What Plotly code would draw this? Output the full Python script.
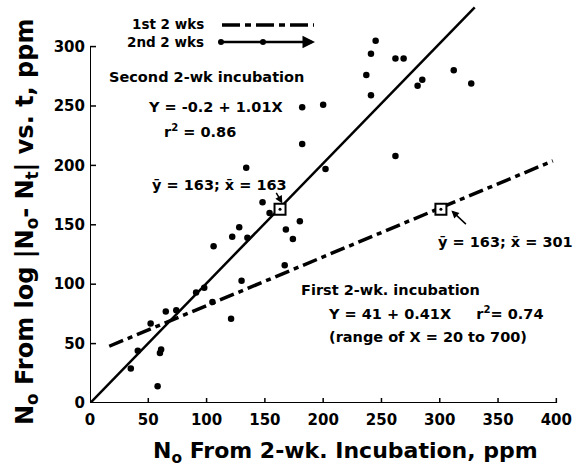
import plotly.graph_objects as go

# ---- data ----
x2 = [35, 41, 52, 58, 60, 61, 65, 74, 91, 98, 105, 106, 121, 122, 130, 128, 135, 134,
      148, 154, 167, 168, 174, 180, 182, 182, 200, 202, 237, 241, 245, 241, 262, 269,
      262, 281, 285, 312, 327]
y2 = [29, 44, 67, 14, 42, 45, 77, 78, 93, 97, 85, 132, 71, 140, 103, 148, 139, 198,
      169, 160, 116, 146, 138, 153, 249, 218, 251, 197, 276, 294, 305, 259, 290, 290,
      208, 267, 272, 280, 269]

# regression lines (from the equations printed on the chart)
b0_2, b1_2 = -0.2, 1.01
line2_x = [0, 330]
b0_1, b1_1 = 41, 0.41
line1_x = [16.5, 397]

means_x = [163, 301]
means_y = [163, 163]

xticks = [0, 50, 100, 150, 200, 250, 300, 350, 400]
yticks = [0, 50, 100, 150, 200, 250, 300]

# ---- layout geometry ----
W, H = 580, 474
L, R, T, B = 90, 12, 5, 71
XR = [0, 410]
YR = [0, 335]
pw, ph = W - L - R, H - T - B

def pxx(p):
    return (p - L) / pw

def pxy(p):
    return (H - B - p) / ph

FONT = "DejaVu Sans"
fig = go.Figure()

fig.add_trace(go.Scatter(x=line2_x, y=[b0_2 + b1_2 * v for v in line2_x], mode="lines",
                         line=dict(color="black", width=2.5), cliponaxis=False, showlegend=False))
fig.add_trace(go.Scatter(x=line1_x, y=[b0_1 + b1_1 * v for v in line1_x], mode="lines",
                         line=dict(color="black", width=3.5, dash="15px,5px,5px,5px"),
                         showlegend=False))
fig.add_trace(go.Scatter(x=x2, y=y2, mode="markers",
                         marker=dict(color="black", size=6.5), showlegend=False))
fig.add_trace(go.Scatter(x=means_x, y=means_y, mode="markers",
                         marker=dict(symbol="square", size=11, color="white",
                                     line=dict(color="black", width=2)), showlegend=False))
fig.add_trace(go.Scatter(x=means_x, y=means_y, mode="markers",
                         marker=dict(color="black", size=3), showlegend=False))

shapes = []
# axis lines
shapes.append(dict(type="line", xref="x", yref="y", x0=0, y0=0, x1=0, y1=300,
                   line=dict(color="black", width=2)))
shapes.append(dict(type="line", xref="x", yref="y", x0=0, y0=0, x1=400, y1=0,
                   line=dict(color="black", width=2)))
# ticks (inside)
for t in xticks[1:]:
    shapes.append(dict(type="line", xref="x", yref="paper", x0=t, x1=t,
                       y0=0, y1=5 / ph, line=dict(color="black", width=1.5)))
for t in yticks[1:]:
    shapes.append(dict(type="line", xref="paper", yref="y", x0=0, x1=6 / pw,
                       y0=t, y1=t, line=dict(color="black", width=1.5)))
# legend lines
shapes.append(dict(type="line", xref="paper", yref="paper", x0=pxx(222), x1=pxx(314),
                   y0=pxy(25), y1=pxy(25),
                   line=dict(color="black", width=3.5, dash="18px,5px,6px,5px")))
for cx in (221, 263):
    shapes.append(dict(type="circle", xref="paper", yref="paper", xsizemode="pixel",
                       ysizemode="pixel", xanchor=pxx(cx), yanchor=pxy(42),
                       x0=-3, x1=3, y0=-3, y1=3, fillcolor="black", line=dict(width=0)))

ann = []
def txt(s, xp, yp, size=14.5, anchor="left"):
    ann.append(dict(text=s, xref="paper", yref="paper", x=pxx(xp), y=pxy(yp),
                    xanchor=anchor, yanchor="middle", showarrow=False,
                    font=dict(family=FONT, size=size, color="black")))

txt("<b>1st 2 wks</b>", 206, 24, size=13.5, anchor="right")
txt("<b>2nd 2 wks</b>", 206, 42, size=13.5, anchor="right")
txt("<b>Second 2-wk incubation</b>", 107, 77)
txt("<b>Y = -0.2 + 1.01X</b>", 146, 107)
txt("<b>r<sup>2</sup> = 0.86</b>", 162, 131)
txt("<b>y\u0304 = 163; x\u0304 = 163</b>", 150, 185)
txt("<b>y\u0304 = 163; x\u0304 = 301</b>", 436, 242)
txt("<b>First 2-wk. incubation</b>", 299, 290)
txt("<b>Y = 41 + 0.41X     r<sup>2</sup>= 0.74</b>", 326, 313)
txt("<b>(range of X = 20 to 700)</b>", 327, 337)

# legend arrow line
ann.append(dict(text="", xref="paper", yref="paper", axref="pixel", ayref="pixel",
                x=pxx(315), y=pxy(42), ax=-96, ay=0, showarrow=True,
                arrowhead=2, arrowsize=1, arrowwidth=2.5, arrowcolor="black"))
# mean arrows
ann.append(dict(text="", xref="x", yref="y", x=165, y=168, ax=-7, ay=-12,
                showarrow=True, arrowhead=2, arrowsize=1, arrowwidth=1.5, arrowcolor="black"))
ann.append(dict(text="", xref="x", yref="y", x=310, y=162, ax=16, ay=15,
                showarrow=True, arrowhead=2, arrowsize=1, arrowwidth=1.5, arrowcolor="black"))

# axis titles
ann.append(dict(text="<b>N<sub>o</sub> From 2-wk. Incubation, ppm</b>", xref="paper", yref="paper",
                x=pxx(345), y=pxy(452), xanchor="center", yanchor="middle", showarrow=False,
                font=dict(family=FONT, size=22, color="black")))
ann.append(dict(text="<b>N<sub>o</sub> From log |N<sub>o</sub>- N<sub>t</sub>| vs. t, ppm</b>",
                xref="paper", yref="paper", x=pxx(26), y=pxy(222), xanchor="center",
                yanchor="middle", textangle=-90, showarrow=False,
                font=dict(family=FONT, size=24, color="black")))

fig.update_layout(
    width=W, height=H, margin=dict(l=L, r=R, t=T, b=B),
    paper_bgcolor="white", plot_bgcolor="white",
    shapes=shapes, annotations=ann,
    xaxis=dict(range=XR, tickvals=xticks, ticktext=[f"<b>{v}</b>" for v in xticks],
               showgrid=False, zeroline=False, showline=False, ticks="",
               ticklabelstandoff=6,
               tickfont=dict(family=FONT, size=15, color="black")),
    yaxis=dict(range=YR, tickvals=yticks, ticktext=[f"<b>{v}</b>" for v in yticks],
               showgrid=False, zeroline=False, showline=False, ticks="",
               ticklabelstandoff=4,
               tickfont=dict(family=FONT, size=15, color="black")),
)
fig.write_html("out.html", config={"displayModeBar": False},
               post_script="document.body.style.margin='0px';")
